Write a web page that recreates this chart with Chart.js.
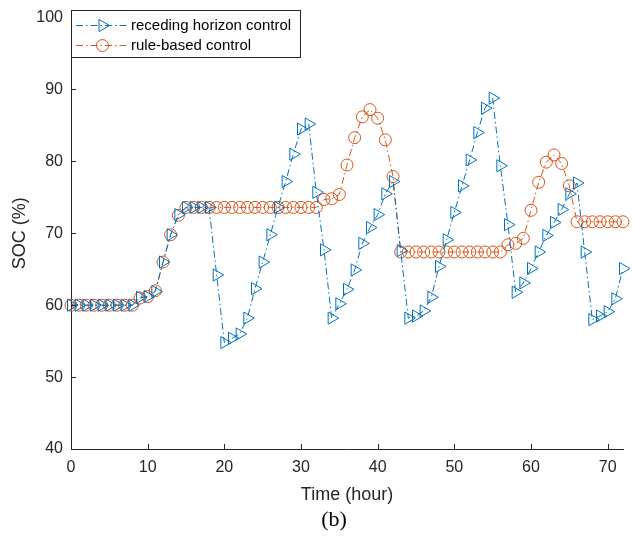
<!DOCTYPE html>
<html>
<head>
<meta charset="utf-8">
<title>SOC</title>
<script src="https://cdn.jsdelivr.net/npm/chart.js@4/dist/chart.umd.min.js"></script>
<style>
  html, body { margin: 0; padding: 0; background: #fff; }
  #wrap { width: 634px; height: 536px; }
</style>
</head>
<body>
<div id="wrap"><canvas id="socChart"></canvas></div>
<script>
// state of charge per hour for the two controllers
const hours = [
    0, 1, 2, 3, 4, 5, 6, 7, 8, 9, 10, 11, 12, 13, 14, 15, 16, 17, 18, 19,
    20, 21, 22, 23, 24, 25, 26, 27, 28, 29, 30, 31, 32, 33, 34, 35, 36, 37, 38, 39,
    40, 41, 42, 43, 44, 45, 46, 47, 48, 49, 50, 51, 52, 53, 54, 55, 56, 57, 58, 59,
    60, 61, 62, 63, 64, 65, 66, 67, 68, 69, 70, 71, 72,
];

const recedingHorizon = [
    60, 60, 60, 60, 60, 60, 60, 60, 60, 61.1, 61.2, 61.9, 66.0, 69.8, 72.6, 73.6, 73.6, 73.6, 73.6, 64.2,
    54.8, 55.4, 56.0, 58.2, 62.3, 66.0, 69.8, 73.6, 77.2, 81.0, 84.5, 85.2, 75.7, 67.7, 58.2, 60.2, 62.2, 64.9, 68.6, 70.8,
    72.6, 75.5, 77.2, 67.6, 58.2, 58.5, 59.2, 61.1, 65.4, 69.1, 72.9, 76.6, 80.2, 84.0, 87.4, 88.8, 79.4, 71.2, 61.8, 63.1,
    65.1, 67.4, 69.7, 71.5, 73.3, 75.5, 77.0, 67.4, 58.0, 58.5, 59.1, 60.9, 65.1,
];

const ruleBased = [
    60, 60, 60, 60, 60, 60, 60, 60, 60, 61.0, 61.2, 62.0, 66.0, 69.8, 72.5, 73.6, 73.6, 73.6, 73.6, 73.6,
    73.6, 73.6, 73.6, 73.6, 73.6, 73.6, 73.6, 73.6, 73.6, 73.6, 73.6, 73.6, 73.6, 74.7, 74.8, 75.4, 79.5, 83.3, 86.2, 87.2,
    86.0, 83.0, 77.9, 67.4, 67.4, 67.4, 67.4, 67.4, 67.4, 67.4, 67.4, 67.4, 67.4, 67.4, 67.4, 67.4, 67.4, 68.4, 68.6, 69.3,
    73.2, 77.1, 79.9, 80.9, 79.7, 76.6, 71.6, 71.6, 71.6, 71.6, 71.6, 71.6, 71.6,
];

const seriesLabels = ['receding horizon control', 'rule-based control'];
const caption = '(b)';

const blue = '#0072BD';
const orange = '#D95319';
const axisColor = '#262626';
const dashDot = [7, 3, 1.5, 3];
const sans = "'Liberation Sans', Arial, sans-serif";
const serif = "'Liberation Serif', 'Times New Roman', serif";

const toPoints = (values) => values.map((v, i) => ({ x: hours[i], y: v }));

// MATLAB style ticks pointing into the plot
const innerTicks = {
    id: 'innerTicks',
    afterDatasetsDraw(chart) {
        const { ctx, chartArea, scales: { x, y } } = chart;
        ctx.save();
        ctx.strokeStyle = axisColor;
        ctx.lineWidth = 1;
        ctx.beginPath();
        x.ticks.forEach((t) => {
            const px = Math.round(x.getPixelForValue(t.value)) + 0.5;
            ctx.moveTo(px, chartArea.bottom);
            ctx.lineTo(px, chartArea.bottom - 5);
        });
        y.ticks.forEach((t) => {
            const py = Math.round(y.getPixelForValue(t.value)) + 0.5;
            ctx.moveTo(chartArea.left, py);
            ctx.lineTo(chartArea.left + 5, py);
        });
        ctx.stroke();
        ctx.restore();
    },
};

// boxed legend in the upper left corner of the axes, plus the panel caption
const boxLegend = {
    id: 'boxLegend',
    afterDraw(chart) {
        const { ctx, chartArea } = chart;
        const left = chartArea.left;
        const top = 10;
        const w = 229;
        const h = 47;
        ctx.save();
        ctx.fillStyle = '#fff';
        ctx.fillRect(left, top, w, h);
        ctx.strokeStyle = axisColor;
        ctx.lineWidth = 1;
        ctx.strokeRect(left + 0.5, top + 0.5, w, h);

        chart.data.datasets.forEach((ds, i) => {
            const cy = top + 15.5 + i * 20;
            ctx.strokeStyle = ds.borderColor;
            ctx.lineWidth = ds.borderWidth;
            ctx.setLineDash(ds.borderDash);
            ctx.beginPath();
            ctx.moveTo(left + 5, cy);
            ctx.lineTo(left + 56, cy);
            ctx.stroke();
            ctx.setLineDash([]);

            ctx.fillStyle = 'rgba(0,0,0,0)';
            ctx.strokeStyle = ds.pointBorderColor;
            Chart.helpers.drawPoint(ctx, {
                pointStyle: ds.pointStyle,
                rotation: ds.pointRotation || 0,
                radius: ds.pointRadius,
                borderWidth: ds.pointBorderWidth,
            }, left + 31.5, cy);

            ctx.fillStyle = '#000';
            ctx.font = '15px ' + sans;
            ctx.textBaseline = 'middle';
            ctx.textAlign = 'left';
            ctx.fillText(ds.label, left + 60, cy);
        });

        ctx.fillStyle = '#000';
        ctx.font = '22px ' + serif;
        ctx.textAlign = 'center';
        ctx.textBaseline = 'middle';
        ctx.fillText(caption, 334, 520);
        ctx.restore();
    },
};

const config = {
    type: 'line',
    data: {
        datasets: [
            {
                label: seriesLabels[0],
                data: toPoints(recedingHorizon),
                borderColor: blue,
                borderWidth: 1,
                borderDash: dashDot,
                pointStyle: 'triangle',
                pointRotation: 90,
                pointRadius: 7,
                pointBorderWidth: 1,
                pointBorderColor: blue,
                pointBackgroundColor: 'rgba(0,0,0,0)',
                tension: 0,
                clip: false,
            },
            {
                label: seriesLabels[1],
                data: toPoints(ruleBased),
                borderColor: orange,
                borderWidth: 1,
                borderDash: dashDot,
                pointStyle: 'circle',
                pointRadius: 6,
                pointBorderWidth: 1,
                pointBorderColor: orange,
                pointBackgroundColor: 'rgba(0,0,0,0)',
                tension: 0,
                clip: false,
            },
        ],
    },
    options: {
        responsive: true,
        maintainAspectRatio: false,
        animation: false,
        layout: {
            padding: { top: 15, right: 11, bottom: 28.4, left: 0 },
        },
        plugins: {
            legend: { display: false },
            tooltip: { enabled: false },
        },
        scales: {
            x: {
                type: 'linear',
                min: 0,
                max: 72,
                afterFit: (scale) => { scale.height = 58.6; },
                ticks: {
                    stepSize: 10,
                    includeBounds: false,
                    color: axisColor,
                    font: { family: sans, size: 16 },
                    padding: 9,
                    maxRotation: 0,
                },
                grid: { display: true, drawOnChartArea: false, drawTicks: false },
                border: { color: axisColor, width: 1 },
                title: {
                    display: true,
                    text: 'Time (hour)',
                    color: axisColor,
                    font: { family: sans, size: 18 },
                    padding: { top: 0, bottom: 2 },
                },
            },
            y: {
                min: 40,
                max: 100,
                afterFit: (scale) => { scale.width = 71; },
                ticks: {
                    stepSize: 10,
                    color: axisColor,
                    font: { family: sans, size: 16 },
                    padding: 8,
                },
                grid: { display: true, drawOnChartArea: false, drawTicks: false },
                border: { color: axisColor, width: 1 },
                title: {
                    display: true,
                    text: 'SOC (%)',
                    color: axisColor,
                    font: { family: sans, size: 18 },
                    padding: { top: 9, bottom: 0 },
                },
            },
        },
    },
    plugins: [innerTicks, boxLegend],
};

document.addEventListener('DOMContentLoaded', () => {
    const $socChart = document.getElementById('socChart');
    new Chart($socChart, config);
});
</script>
</body>
</html>
